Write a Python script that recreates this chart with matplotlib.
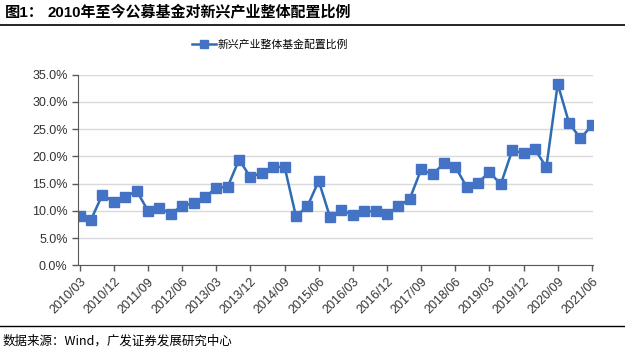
import numpy as np
import matplotlib.pyplot as plt
from matplotlib.ticker import FuncFormatter

plt.rcParams['font.family'] = ['Liberation Sans', 'Noto Sans CJK SC', 'DejaVu Sans']

# quarterly points 2010Q1 .. 2021Q2
quarters = []
for yr in range(2010, 2022):
    for m in ["03", "06", "09", "12"]:
        quarters.append(f"{yr}/{m}")
quarters = quarters[:46]

ratio = [9.0, 8.4, 13.0, 11.6, 12.5, 13.7, 10.0, 10.5, 9.5, 10.9,
         11.4, 12.5, 14.2, 14.4, 19.4, 16.2, 17.0, 18.0, 18.1, 9.0,
         10.8, 15.5, 8.8, 10.2, 9.2, 9.9, 9.9, 9.4, 10.8, 12.2,
         17.6, 16.7, 18.7, 18.1, 14.4, 15.2, 17.1, 14.9, 21.1, 20.6,
         21.3, 18.0, 33.3, 26.1, 23.3, 25.7]
ratio = np.array(ratio) / 100

title_head = "图1："
title = "2010年至今公募基金对新兴产业整体配置比例"
series_name = "新兴产业整体基金配置比例"
source = "数据来源：Wind，广发证券发展研究中心"

fig = plt.figure(figsize=(6.25, 3.52), dpi=100)
W, H = 625, 352
ax = fig.add_axes([78 / W, 1 - 265.3 / H, (593 - 78) / W, (265.3 - 74.7) / H])

x = np.arange(len(ratio))
ax.plot(x, ratio, color="#2E6DB4", lw=1.8, marker="s", ms=6.5,
        mfc="#4472C4", mec="#4472C4", label=series_name)

ax.set_ylim(0, 0.35)
ax.set_yticks(np.arange(0, 0.351, 0.05))
ax.yaxis.set_major_formatter(FuncFormatter(lambda v, p: f"{v*100:.1f}%"))
ax.set_xlim(-0.15, len(ratio) - 1 + 0.1)
ticks = x[::3]
ax.set_xticks(ticks)
ax.set_xticklabels([quarters[i] for i in ticks], rotation=45, ha="right",
                   rotation_mode="anchor")

ax.grid(axis="y", color="#D9D9D9", lw=1)
ax.set_axisbelow(True)
for s in ["top", "right"]:
    ax.spines[s].set_visible(False)
for s in ["left", "bottom"]:
    ax.spines[s].set_color("#595959")
ax.tick_params(axis="both", colors="#595959", labelcolor="#333333",
               labelsize=9, length=4, width=1)

fig.legend(loc="center", bbox_to_anchor=(270 / W, 1 - 45 / H), frameon=False,
           handlelength=2.2, handletextpad=0.2, markerscale=0.8,
           prop={"family": ["Noto Sans CJK SC"], "size": 7.8})

fig.text(5 / W, 1 - 13 / H, title_head, fontsize=11, fontweight="bold", va="center",
         family=["Liberation Sans", "Noto Sans CJK SC"])
fig.text(48 / W, 1 - 13 / H, title, fontsize=10.8, fontweight="bold", va="center",
         family=["Liberation Sans", "Noto Sans CJK SC"])
fig.add_artist(plt.Line2D([0, 1], [1 - 25 / H, 1 - 25 / H], color="black", lw=1.2))
fig.add_artist(plt.Line2D([0, 1], [1 - 326 / H, 1 - 326 / H], color="black", lw=1))
fig.text(3 / W, 1 - 341 / H, source, fontsize=9, va="center",
         family=["Noto Sans CJK SC", "Liberation Sans"])

fig.savefig("out.png", dpi=100)
